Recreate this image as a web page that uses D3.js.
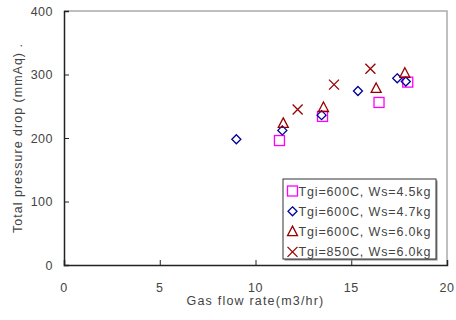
<!DOCTYPE html>
<html>
<head>
<meta charset="utf-8">
<script src="https://cdn.jsdelivr.net/npm/d3@7"></script>
<style>
  body { margin: 0; background: #fff; }
  text { font-family: "Liberation Sans", Arial, sans-serif; fill: #444; }
</style>
</head>
<body>
<div id="chart"></div>
<script>
// data
var sqX = [11.25, 13.5, 16.45, 17.95];
var sqY = [196, 234, 256, 288];
var diaX = [9.0, 11.4, 13.45, 15.35, 17.4, 17.85];
var diaY = [198, 212, 236, 274, 294, 289];
var triX = [11.45, 13.55, 16.3, 17.8];
var triY = [223, 248, 278, 302];
var crossX = [12.2, 14.1, 16.0];
var crossY = [245, 284, 309];

var xTicks = [0, 5, 10, 15, 20];
var yTicks = [0, 100, 200, 300, 400];
var legendLabels = ["Tgi=600C, Ws=4.5kg", "Tgi=600C, Ws=4.7kg", "Tgi=600C, Ws=6.0kg", "Tgi=850C, Ws=6.0kg"];

var w = 456, h = 320;
var pLeft = 64, pRight = 447, pTop = 11, pBottom = 265;

var svg = d3.select("#chart").append("svg")
  .attr("width", w)
  .attr("height", h);

var x = d3.scaleLinear().domain([0, 20]).range([pLeft, pRight]);
var y = d3.scaleLinear().domain([0, 400]).range([pBottom, pTop]);

// frame: top and right in gray
svg.append("path")
  .attr("d", "M" + pLeft + "," + pTop + "H" + pRight + "V" + pBottom)
  .attr("fill", "none")
  .attr("stroke", "#aaa")
  .attr("stroke-width", 1.5);

// axes, ticks pointing inward
var xAxis = svg.append("g")
  .attr("transform", "translate(0," + pBottom + ")")
  .call(d3.axisTop(x).tickValues(xTicks).tickSize(5));
xAxis.selectAll("text").remove();
xAxis.selectAll("text.lbl").data(xTicks).enter().append("text")
  .attr("class", "lbl")
  .attr("x", function(d) { return x(d); })
  .attr("y", 27)
  .attr("text-anchor", "middle")
  .attr("font-size", 12.5)
  .attr("letter-spacing", 0.5)
  .text(function(d) { return d; });

var yAxis = svg.append("g")
  .attr("transform", "translate(" + pLeft + ",0)")
  .call(d3.axisRight(y).tickValues(yTicks).tickSize(5));
yAxis.selectAll("text").remove();
yAxis.selectAll("text.lbl").data(yTicks).enter().append("text")
  .attr("class", "lbl")
  .attr("x", -11)
  .attr("y", function(d) { return y(d) + 4.5; })
  .attr("text-anchor", "end")
  .attr("font-size", 12.5)
  .attr("letter-spacing", 0.5)
  .text(function(d) { return d; });

svg.selectAll(".domain").attr("stroke", "#222").attr("stroke-width", 1.5);
svg.selectAll(".tick line").attr("stroke", "#222");

// axis titles
svg.append("text")
  .attr("x", (pLeft + pRight) / 2)
  .attr("y", 305)
  .attr("text-anchor", "middle")
  .attr("font-size", 12.5)
  .attr("letter-spacing", 1.2)
  .text("Gas flow rate(m3/hr)");

svg.append("text")
  .attr("transform", "translate(22," + 138 + ") rotate(-90)")
  .attr("text-anchor", "middle")
  .attr("font-size", 12.5)
  .attr("letter-spacing", 1)
  .text("Total pressure drop (mmAq)    .");

// marker shapes
var pink = "#ff00ff", blue = "#000099", red = "#990000";

function drawSquare(g, cx, cy) {
  g.append("rect").attr("x", cx - 5).attr("y", cy - 5).attr("width", 10).attr("height", 10)
    .attr("fill", "none").attr("stroke", pink).attr("stroke-width", 1.3);
}
function drawDiamond(g, cx, cy) {
  g.append("path").attr("d", "M" + cx + "," + (cy - 4.5) + "L" + (cx + 4.5) + "," + cy + "L" + cx + "," + (cy + 4.5) + "L" + (cx - 4.5) + "," + cy + "Z")
    .attr("fill", "none").attr("stroke", blue).attr("stroke-width", 1.3);
}
function drawTriangle(g, cx, cy) {
  g.append("path").attr("d", "M" + cx + "," + (cy - 5.5) + "L" + (cx + 5) + "," + (cy + 4) + "L" + (cx - 5) + "," + (cy + 4) + "Z")
    .attr("fill", "none").attr("stroke", red).attr("stroke-width", 1.3);
}
function drawCross(g, cx, cy) {
  g.append("path").attr("d", "M" + (cx - 5) + "," + (cy - 5) + "L" + (cx + 5) + "," + (cy + 5) + "M" + (cx + 5) + "," + (cy - 5) + "L" + (cx - 5) + "," + (cy + 5))
    .attr("fill", "none").attr("stroke", red).attr("stroke-width", 1.3);
}

var marks = svg.append("g");
sqX.forEach(function(v, i) { drawSquare(marks, x(v), y(sqY[i])); });
diaX.forEach(function(v, i) { drawDiamond(marks, x(v), y(diaY[i])); });
triX.forEach(function(v, i) { drawTriangle(marks, x(v), y(triY[i])); });
crossX.forEach(function(v, i) { drawCross(marks, x(v), y(crossY[i])); });

// legend
var lg = svg.append("g").attr("transform", "translate(283,179)");
lg.append("rect").attr("x", 1.5).attr("y", 1.5).attr("width", 153).attr("height", 80).attr("fill", "#888");
lg.append("rect").attr("width", 153).attr("height", 80)
  .attr("fill", "#fff").attr("stroke", "#333").attr("stroke-width", 1);
var drawers = [drawSquare, drawDiamond, drawTriangle, drawCross];
legendLabels.forEach(function(t, i) {
  var cy = 12 + i * 20.3;
  drawers[i](lg, 9.5, cy);
  lg.append("text")
    .attr("x", 15.5)
    .attr("y", cy + 4.5)
    .attr("font-size", 12.5)
    .attr("letter-spacing", 0.85)
    .text(t);
});
</script>
</body>
</html>
